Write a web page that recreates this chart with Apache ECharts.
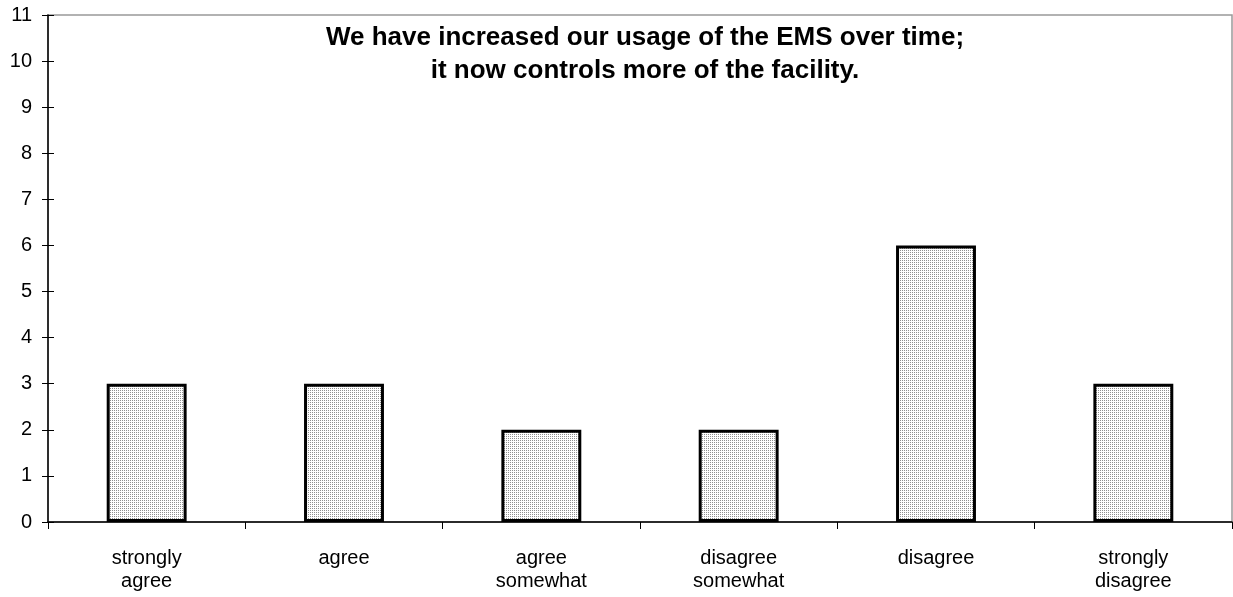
<!DOCTYPE html>
<html><head><meta charset="utf-8">
<script src="https://cdn.jsdelivr.net/npm/echarts@6/dist/echarts.min.js"></script>
<style>html,body{margin:0;padding:0;background:#fff}#c{width:1233px;height:597px}</style>
</head><body><div id="c"></div>
<script>
const categories = ['strongly\nagree', 'agree', 'agree\nsomewhat', 'disagree\nsomewhat', 'disagree', 'strongly\ndisagree'];
const values = [3, 3, 2, 2, 6, 3];
const titleLines = ['We have increased our usage of the EMS over time;', 'it now controls more of the facility.'];

const pc = document.createElement('canvas');
pc.width = 2; pc.height = 2;
const ctx = pc.getContext('2d');
ctx.fillStyle = '#ffffff'; ctx.fillRect(0,0,2,2);
ctx.fillStyle = '#909090'; ctx.fillRect(0,0,1,1);

const chart = echarts.init(document.getElementById('c'), null, {renderer:'canvas'});
const font = 'Arial, "Liberation Sans", sans-serif';
chart.setOption({
  animation: false,
  textStyle: {fontFamily: font},
  title: {
    text: titleLines.join('\n'),
    left: 640, top: 16, textAlign: 'center',
    textStyle: {fontSize: 26, fontWeight: 'bold', color: '#000', lineHeight: 33, fontFamily: font}
  },
  grid: {left: 48, right: 1, top: 15, bottom: 75, show: true, borderColor: '#999', borderWidth: 1.5, backgroundColor: 'transparent'},
  xAxis: {
    type: 'category', data: categories, boundaryGap: true,
    axisLine: {lineStyle: {color: '#000', width: 1.5}},
    axisTick: {show: true, length: 7, lineStyle: {color: '#000'}},
    axisLabel: {color: '#000', fontSize: 20, lineHeight: 23, margin: 25, fontFamily: font}
  },
  yAxis: [{
    type: 'value', min: 0, max: 11, interval: 1,
    splitLine: {show: false},
    axisLine: {show: true, lineStyle: {color: '#000', width: 1.5}},
    axisTick: {show: true, length: 6, lineStyle: {color: '#000'}},
    axisLabel: {color: '#000', fontSize: 20, margin: 16, fontFamily: font}
  }, {
    type: 'value', min: 0, max: 11, interval: 1, position: 'left',
    splitLine: {show: false},
    axisLine: {show: false},
    axisTick: {show: true, inside: true, length: 6, lineStyle: {color: '#000'}},
    axisLabel: {show: false}
  }],
  series: [{
    type: 'bar', data: values, yAxisIndex: 0, barWidth: '40.5%',
    itemStyle: {color: {image: pc, repeat: 'repeat'}, borderColor: '#000', borderWidth: 3}
  }]
});
</script></body></html>
